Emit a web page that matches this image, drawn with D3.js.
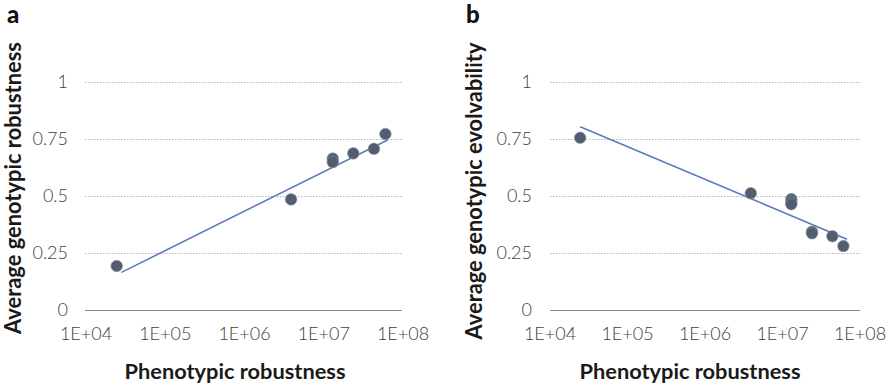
<!DOCTYPE html>
<html><head><meta charset="utf-8">
<script src="https://cdn.jsdelivr.net/npm/d3@7"></script>
<style>
body{margin:0;background:#fff;}
svg{display:block;}
</style></head>
<body>
<svg id="chart" width="894" height="389"></svg>
<script>
// ---- data ----
const xTicks = [1e4, 1e5, 1e6, 1e7, 1e8];
const xTickLabels = ["1E+04", "1E+05", "1E+06", "1E+07", "1E+08"];
const yTicks = [0, 0.25, 0.5, 0.75, 1];
const yTickLabels = ["0", "0.25", "0.5", "0.75", "1"];

// panel a: phenotypic robustness vs average genotypic robustness
const aX = [2.44e4, 3.87e6, 1.3e7, 1.3e7, 2.36e7, 4.3e7, 6.0e7];
const aY = [0.193, 0.485, 0.664, 0.649, 0.687, 0.707, 0.772];
const aTrendX = [2.8e4, 6.4e7];
const aTrendY = [0.165, 0.746];

// panel b: phenotypic robustness vs average genotypic evolvability
const bX = [2.45e4, 3.9e6, 1.3e7, 1.3e7, 1.3e7, 2.4e7, 2.4e7, 4.4e7, 6.1e7];
const bY = [0.755, 0.511, 0.485, 0.474, 0.463, 0.342, 0.335, 0.322, 0.279];
const bTrendX = [2.45e4, 6.8e7];
const bTrendY = [0.803, 0.309];

const panels = [
  {letter:"a", lx:7, ly:23, x0:86, x1:403, gx0:85, gx1:402, y0:310, y1:82, tickRight:68,
   ytitle:"Average genotypic robustness", ytx:21, yty:188, ytlen:292,
   xtitleCx:235, xs:aX, ys:aY, tx:aTrendX, ty:aTrendY},
  {letter:"b", lx:466, ly:23, x0:550, x1:860, gx0:550, gx1:860, y0:309.5, y1:82, tickRight:532,
   ytitle:"Average genotypic evolvability", ytx:482, yty:191, ytlen:297,
   xtitleCx:690, xs:bX, ys:bY, tx:bTrendX, ty:bTrendY}
];

const svg = d3.select("#chart");
const FONT = "Lato, 'Open Sans', sans-serif";

function fitText(sel, target){
  const w = sel.node().getComputedTextLength();
  const fs = parseFloat(sel.attr("font-size"));
  sel.attr("font-size", (fs*target/w).toFixed(2));
}

panels.forEach(p => {
  const g = svg.append("g");
  const x = d3.scaleLog().domain([1e4, 1e8]).range([p.x0, p.x1]);
  const y = d3.scaleLinear().domain([0, 1]).range([p.y0, p.y1]);

  // gridlines (dotted) for non-zero ticks
  g.selectAll("line.grid").data(yTicks.filter(v => v > 0)).join("line")
    .attr("x1", p.gx0).attr("x2", p.gx1)
    .attr("y1", d => Math.round(y(d)) + 0.5).attr("y2", d => Math.round(y(d)) + 0.5)
    .attr("stroke", "#b8b8b8").attr("stroke-width", 1).attr("stroke-dasharray", "1.5,1.5");

  // baseline
  g.append("line")
    .attr("x1", p.gx0).attr("x2", p.gx1)
    .attr("y1", Math.round(y(0)) + 0.5).attr("y2", Math.round(y(0)) + 0.5)
    .attr("stroke", "#8a8a8a").attr("stroke-width", 1.2);

  // y tick labels
  g.selectAll("text.yt").data(yTicks).join("text")
    .attr("x", p.tickRight).attr("y", d => y(d) + 6)
    .attr("text-anchor", "end")
    .attr("font-family", FONT).attr("font-weight", 300).attr("font-size", 18)
    .attr("fill", "#404040")
    .text((d, i) => yTickLabels[i]);

  // x tick labels
  g.selectAll("text.xt").data(xTicks).join("text")
    .attr("x", d => x(d)).attr("y", y(0) + 30)
    .attr("text-anchor", "middle")
    .attr("font-family", FONT).attr("font-weight", 300).attr("font-size", 18)
    .attr("fill", "#404040")
    .text((d, i) => xTickLabels[i]);

  // trend line
  g.append("line")
    .attr("x1", x(p.tx[0])).attr("y1", y(p.ty[0]))
    .attr("x2", x(p.tx[1])).attr("y2", y(p.ty[1]))
    .attr("stroke", "#5a7dbf").attr("stroke-width", 1.6);

  // points
  const pts = p.xs.map((v, i) => ({x: v, y: p.ys[i]}));
  g.selectAll("circle").data(pts).join("circle")
    .attr("cx", d => x(d.x)).attr("cy", d => y(d.y)).attr("r", 5.8)
    .attr("fill", "#535d70").attr("stroke", "#8a93a3").attr("stroke-width", 0.6);

  // x title
  const xt = g.append("text")
    .attr("x", p.xtitleCx).attr("y", 379).attr("text-anchor", "middle")
    .attr("font-family", FONT).attr("font-weight", 700).attr("font-size", 18)
    .attr("fill", "#1a1a1a").text("Phenotypic robustness");
  fitText(xt, 221);

  // y title
  const yt = g.append("text")
    .attr("transform", `translate(${p.ytx},${p.yty}) rotate(-90)`)
    .attr("text-anchor", "middle")
    .attr("font-family", FONT).attr("font-weight", 700).attr("font-size", 18)
    .attr("fill", "#1a1a1a").text(p.ytitle);
  fitText(yt, p.ytlen);

  // panel letter
  g.append("text").attr("x", p.lx).attr("y", p.ly)
    .attr("font-family", FONT).attr("font-weight", 900).attr("font-size", 24)
    .attr("fill", "#111").text(p.letter);
});
</script>
</body></html>
